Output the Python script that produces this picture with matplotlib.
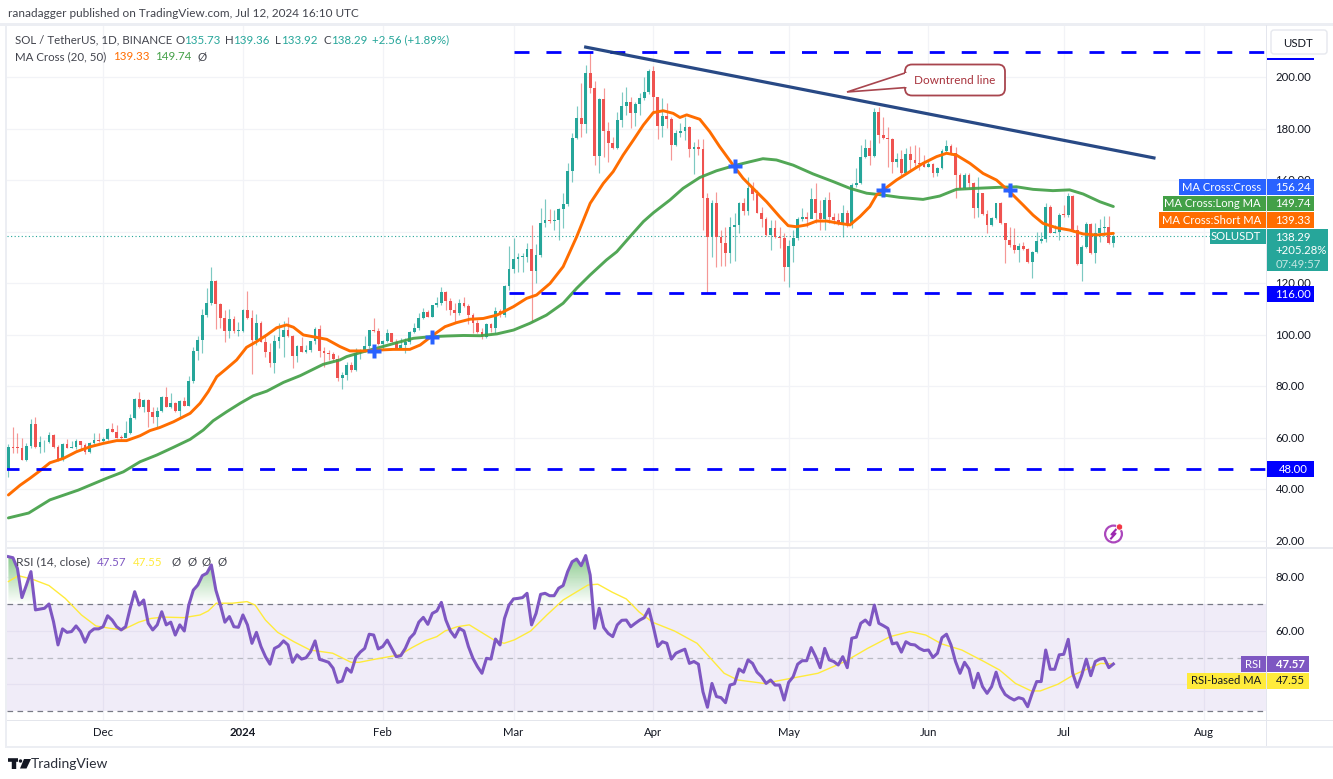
import matplotlib
matplotlib.use("Agg")
import matplotlib.pyplot as plt
import numpy as np
from matplotlib.patches import Rectangle, FancyBboxPatch, Polygon, Circle, PathPatch
from matplotlib.path import Path
from matplotlib.colors import LinearSegmentedColormap

plt.rcParams['font.family'] = ['Lato', 'DejaVu Sans']

# ---------- data ----------
first_open = 47.5
closes = [56.5,56.2,55.9,51.4,56.8,65.2,56.5,58.2,58.4,61.1,
 56.3,51.4,57.6,56.1,56.5,58.7,57.2,54.6,57.8,59.1,
 58.7,59.4,63.6,62.4,60.1,59.8,61.7,67.8,75,72,
 74.7,70.1,68.2,70.4,76,72,73.6,70.4,74.4,72.4,
 82.2,93.8,97.9,107.6,112.2,121,112,106.3,101.4,106,
 101.4,101.5,109.6,106.3,97.9,104.7,97.3,93.4,88.9,97.5,
 99.2,101.8,99.5,91.7,95.7,93.4,94,97.5,102.2,93.8,
 93,92.4,90.4,83.3,84.4,88.2,86.3,92.8,94,95.6,
 101.8,101.4,96.4,97.7,100.5,97.3,95,96,97.3,101,
 102.5,106.6,108.9,106.9,111.5,112.2,116.7,113.2,109.6,108.5,
 112.2,111.3,107.6,104.4,101,99,104,102.5,109.3,107.6,
 118.9,125.4,129.2,130,130.2,133.1,124.7,130.8,143.5,144.5,
 144,144.5,148.6,150.7,163.5,176.5,184,181.8,201.7,195.6,
 169.3,191.3,179.2,174.5,172.3,183.3,188.7,190.2,185.9,189.5,
 191.7,194,202.5,192.1,181,184.9,183.6,173.6,178.4,179.2,
 180.5,172,172.9,172,153,138,151,138,135.7,131.6,
 141.9,142.6,151,148.1,156.8,154.6,147.4,144.8,138.7,141.3,
 138,137.4,126.4,134.5,137.4,144.8,145.8,145,152.5,147.1,
 144.8,152.3,145.8,144.5,143.2,147.1,142.6,158.1,159,169.1,
 172.3,169.3,186.6,177.5,176.4,175.8,167.1,168,162.6,170,
 167.8,166.8,166.2,165.2,166.2,162.6,164.8,171.4,173.2,170.6,
 162,156.8,162,158.7,149,154.8,146.8,142.6,145.4,151,
 143.2,136.7,134.8,132.9,134.4,133.1,128.2,132.2,136.4,137,
 149.7,139.6,140,146.4,146.3,153.8,140.6,127.4,134.2,143,
 131.6,139.6,141.3,141.6,135.73,138.29]
highs = [57.6,64.3,61.7,59.8,57.8,67.1,68.2,60.7,59.1,62.2,
 61.5,57.2,57.8,59.4,58.9,59.6,58.9,57.8,58.3,61.7,
 61.7,60.4,63.8,65.6,65,61,66.6,69.2,75.3,77.6,
 75,74.9,72,72,76.2,79.6,77.2,73.7,74.7,76,
 84,95.4,99.5,109.8,118,126.1,121.2,112.4,109.6,109.8,
 107.2,105,109.8,116.8,109.6,108,105.4,100.3,96.6,99.8,
 104.7,105.4,107,99.9,96,99.2,96,97.7,103.1,103.8,
 95.4,94,93.4,92.1,85.6,89.5,89.5,94.7,94.3,99.5,
 102,106.3,102.5,97.9,102.3,100.8,98.2,98.6,98.6,101.4,
 104.4,108.5,110.5,109.6,111.5,114.7,118.6,117.1,114.1,112.2,
 113.7,114.7,111.8,108.3,105.7,102.5,104.6,104.4,110.9,109.8,
 119.3,134.5,137.4,131.6,131.6,135.4,142.6,135.2,149,152.5,
 148.6,148.4,149,154.9,166.5,178.1,188.7,197.8,204.7,209.8,
 198.6,191.7,195.6,182.7,176.8,186.5,194.3,196.2,192.4,190.4,
 193.7,200.1,203,204.3,192.1,191.7,189.8,184.6,179.4,182,
 184.6,181,174.9,175.8,175.8,154.9,152.3,155.5,140.6,141.9,
 145.8,147.1,151.6,152.9,161.3,159.4,156.2,149.7,145.8,144.5,
 144.5,141.9,139.3,136.7,140.6,145.8,149,147.7,156.8,159,
 152.3,153.6,155.5,147.4,147.1,150.3,148.4,158.7,164.6,173.6,
 175.8,175.5,187.8,188.5,184.6,180.7,176.2,170.4,171.7,172.3,
 173.2,173.6,173,169.7,167.8,166.5,165.2,171.9,175.5,174,
 173,162.6,162.9,162.6,159.4,161.3,155.1,148.4,145.8,151.2,
 151.4,143.5,141.9,141.3,135.7,136.1,133.5,132.6,140,140,
 151,150.3,142.6,147.4,150.3,154.9,154.2,142.6,134.8,143.9,
 143.2,143.2,144.8,146.2,146.1,139.36]
lows = [44.9,54,54,51.2,51,56.1,56.1,54.2,54.6,57.8,
 55.9,51.1,51,55.9,55.9,55.6,55.2,53.6,54,57.6,
 58.5,58.3,59.1,62.1,59.8,59.1,60.4,61.5,67.3,71.7,
 70.1,64.3,65.6,64.3,69.9,71.8,71.4,70.1,67.5,72.2,
 72.2,81.1,90.2,92.8,107,111.6,102.2,102.5,97.3,98.8,
 100.8,99.5,101.2,106.1,84.7,96,97,91.5,87.3,85,
 95,91.5,99.2,87.2,89.5,93.2,93,93.4,96.4,91.2,
 87.3,90.2,89.9,82.2,78.8,82.4,85.6,86,90.4,93.4,
 95,101.2,96,94,97,97,94.7,94.7,93,96.4,
 100.5,101.8,106.2,106.7,106.7,110.9,111.4,109.6,107.6,104.6,
 107.6,110.9,104.2,100.5,100.5,98.3,98.6,101.2,100.8,107,
 106.7,117.3,124,124.5,124.2,128.3,105,120,130.3,141.9,
 143.5,140.6,136.7,141.3,150.1,159.4,175.8,176.8,178.1,193.7,
 165.8,162.6,169.1,167.1,171.9,171.9,180.5,185.3,180.1,181,
 185.3,191.1,193.4,185.9,175.8,176.8,180.1,167.8,173.2,176.8,
 175.5,168.8,162.4,169.7,140.6,116,130.3,126.4,126.7,126.7,
 127.7,128.6,139.3,146.4,146.4,152.3,147.1,141.9,138.4,132.9,
 137.4,133.5,121,118.4,128.3,136.7,144.2,141.9,145.1,143.2,
 140.6,140.6,143.5,143,142.6,137.8,141.9,141.3,157.4,158.5,
 168.4,165.8,169.1,174.3,175.8,165.2,162.6,165.2,161.3,162.4,
 163.9,164.6,163.9,165.2,165.2,161.3,161.6,164.2,170.4,169.7,
 152.9,156.4,156.4,156.8,145.1,145.5,146.4,139.6,142.3,144.9,
 143,127.9,134.2,131.8,128.3,132.9,127.9,121.9,131.6,135.4,
 136.1,139.3,139.6,136.7,145.8,145.8,140,127.2,121,133.5,
 131.3,127.7,136.1,138.3,135.2,133.92]

ma20_day = [0,2.6,4.8,7,9.2,12.2,15.1,18.1,21,24,26.2,29.2,31.4,33.6,36.6,40.3,42.5,44.3,46.2,48.4,50.6,52.8,55,57.3,59.5,61.7,63.2,65.4,67.6,70.6,
 73.5,75.7,78.7,81.6,85.3,89,91.3,94.2,96.8,99.4,102.3,105.3,108.3,112,114.9,117.1,120.1,123,126,129,131.9,134.1,136.3,138.6,140.8,143,145.2,147.4,148.9,150.4,
 153.3,155.5,157.7,160.7,162.9,165.1,168.1,171,172.9,174.7,177,179.2,181.4,184.3,186.6,188.8,191,192.5,194,196.9,199.9,202.8,205.8,208,210.2,213.2,216.1,219.1,222,225,227.2,229.4,232.4,235.3,238.3,241.3,245]
ma20_val = [37.8,41.6,44.3,47.2,50.3,52,54.6,56.5,57.8,58.9,58.9,60.8,62.8,64,66.2,69.5,73.4,77.9,83.7,86.9,90.2,95.1,97.3,99.9,102.7,103.8,102.9,99.9,99.2,98.2,
 95.4,93.7,93.7,94,94.3,94.3,96,99.9,103.1,104.7,106,106.3,107.6,110.9,114.1,115.4,119.9,126.4,138,151,158.7,163.3,169.7,175.6,181.4,186.2,186.9,185.9,184.3,185.3,
 183.6,178.8,173,165.8,160.7,156.8,151.6,145.8,142.3,141.9,142.6,144.1,144.1,143.2,142.6,145.8,149.7,154.2,156.2,160,163.3,166.5,169.1,170.4,169.7,166.5,162.6,160,155.5,150.3,146.4,143.2,141.5,140.6,139.1,138.7,139.33]

ma50_day = [0,4.5,9.2,15.5,18.1,21.8,25.5,29.2,32.9,36.6,40.3,43.2,45.4,48.4,51.4,54.3,57.3,61,64.7,67.6,69.8,
 73.5,75,78.7,82.4,86.1,89.8,93.5,97.2,100.9,104.6,108.3,112,115.6,119.3,123,126,129,132.6,134.9,137.8,140.8,143,146.7,149.6,
 153.3,157,160.7,164.4,167.3,170.3,174,178.4,182.9,186.6,190.3,194,197.6,202.8,206.5,210.2,214.6,219.8,223.5,227.2,231.6,235.3,238.3,242,245]
ma50_val = [28.9,30.8,35.9,39.7,41.6,44.3,46.8,50.7,53.3,56.3,59.4,63,66.6,70.1,73.4,76.3,78.1,81.5,84.1,86.6,88.5,
 90.2,91.5,93.4,95.1,96.9,98.6,99.2,99.5,99.7,99.6,100.3,101.8,104.4,107.6,112.2,118,123.2,129,132.2,138,143.9,147.3,152.3,156.8,
 161,163.6,165.5,167.1,168.3,167.8,165.8,162.4,159.4,156.8,154.9,154.2,153.3,152.5,153.8,156.4,156.8,157.2,157.4,156.4,155.9,156.2,154.6,151.6,149.74]

cross_day = [81,94,161,194,222]
cross_val = [93.8,99.2,165.5,156.2,156.2]

rsi_val = [87.7,87.3,83.3,72.4,77.1,82.1,67.8,68.1,68.4,
 70,63.4,54.7,60.7,59.4,59.7,61.8,59.7,55.7,59.4,
 60.7,60.7,61.5,65.6,64,61.5,60.3,61.5,68.4,74.6,
 69.6,71.5,62.8,60.3,62.2,67.1,62.2,63.2,58.4,62.2,
 59.9,69.6,75.2,77.1,80.6,81.5,84.6,75.2,69.6,63.2,
 65.3,61.5,61.3,65.9,62.2,55.3,59.4,54.1,50.3,47.5,
 53.4,54.3,56.2,54.7,48.2,51,49.4,49.9,52.2,56.2,
 49.3,48.8,48.2,46,40.7,41.2,46,44.5,49.9,52,
 53.4,58.7,58.4,53.2,54.1,56.5,53.4,50.3,50.7,53.4,
 57.2,59,63.2,65,62.4,66.5,67.4,70.6,64,59.9,
 57.6,60.9,59.9,54.1,49.7,46.6,44.1,49.7,49.4,56.9,
 54.7,64.6,69.6,71.9,72.1,72.4,74,62.2,66.5,73.6,
 74,73.1,73.1,75.9,76.9,82.1,85.8,86.8,84.3,88.1,
 80.8,60.9,68.4,61.2,59,57.8,62.2,63.9,64,61.5,62.8,64,
 64.9,68.1,61.5,54.1,55.9,55.3,49.4,51.6,52.4,53.1,47.8,48.5,47.5,37.2,31.4,40.3,35.4,35,33.1,
 39.7,40.2,45.7,44.5,49.1,47.8,44.5,42.8,40.3,41.6,39.7,39.7,34.1,40.7,42.8,47.5,48.8,48.8,53.7,50.3,
 46.2,53.4,49.1,48.5,47.2,50.3,46.2,57.2,57.6,62.8,64,62.2,69.6,62.8,61.9,60.9,55.1,55.5,52,55.9,
 54.9,54.7,53.4,52.6,52.8,50,51.6,57.4,58.7,54.7,48.5,44.1,48.2,45.7,38.7,44.1,39.1,36.6,39.1,44.5,
 39.1,36.2,35,34.1,35,34.5,31.6,36.6,41,41,52.8,45.6,45.6,51,51.2,56.8,44.1,38.9,43.5,49.4,
 43.2,48.5,49.4,49.7,46.2,47.57]

rsima_day = [0,2.2,5.4,9,12.6,16.2,19.4,22.6,25.3,28.9,31.6,34.3,38.9,42.5,44.3,46.1,49.7,52.9,54.7,57,59.7,63.3,66.9,71.9,76,77.8,81.4,86.8,89.5,92.3,95,96.8,99.5,102.2,104.9,107.6,109.9,112.2,115.8,119.4,123,128.5,130.7,133.9,137,
 139.8,142.8,147.7,152.7,155.7,158.7,161.7,167.6,171.6,179.5,185.5,190.5,195.5,199.9,203.4,206.9,211.4,216.3,219.8,223.3,226.8,228.8,232.7,236.2,239.2,242.2,245]
rsima_val = [78.4,80.6,79.2,76.9,72.1,65.9,61.8,60.9,60.3,63.2,64.6,65.1,64.9,65.9,67.4,70.3,70.3,70.9,69.6,64,59.4,55.9,52.8,51.6,48.2,48.2,49.4,51,53.7,56.2,57.8,59.9,61.5,62.2,59.4,56.6,55.3,56.6,59.9,65.9,71.5,77.1,77.4,74.4,71.9,
 67.1,63.2,59.9,55.3,49.7,44.1,41.6,40.3,41.6,44.1,48.5,53.4,57.8,59.7,58.4,55.1,52.8,48.5,45.3,40.3,37.5,37.5,40,43.5,45.7,47.8,47.55]

trend_day = [128,254]
trend_val = [211.6,168.6]

levels = [209.8,116,48]
level_start = [112,111,-1]
price_ticks = [20,40,60,80,100,120,140,160,180,200]
price_labels = [20,40,60,80,100,120,160,180,200]
rsi_ticks = [40,60,80]
month_day = [21,52,83,112,143,173,204,234,265]
month_lab = ['Dec','2024','Feb','Mar','Apr','May','Jun','Jul','Aug']

# ---------- layout in pixels ----------
W, H = 1333, 779
PX0, PX1 = 7, 1266
GREEN, RED = '#26a69a', '#ef5350'
PURPLE = '#7e57c2'
GRID = '#f2f3f7'
FRAME = '#e4e6ee'
S_HEAD, S_LEG, S_AX, S_TAG = 8.45, 8.25, 8.2, 8.1

fig = plt.figure(figsize=(W/100, H/100), dpi=100, facecolor='white')
def pane(top, bottom):
    return fig.add_axes([PX0/W, 1-bottom/H, (PX1-PX0)/W, (bottom-top)/H])

ax = pane(25, 547)
rs = pane(549, 720)
xlim = ((PX0-8.4)/4.51, (PX1-8.4)/4.51)
for a in (ax, rs):
    a.set_xlim(*xlim)
    a.set_xticks([]); a.set_yticks([])
    for s in a.spines.values():
        s.set_visible(False)
    for d in month_day:
        a.axvline(d, color=GRID, lw=0.9, zorder=0)
ax.set_ylim(200-(547-77)/2.577, 200+(77-25)/2.577)
rs.set_ylim(30-(720-711)/2.675, 70+(604-549)/2.675)

for t in price_ticks:
    ax.axhline(t, color=GRID, lw=0.9, zorder=0)
for t in rsi_ticks:
    rs.axhline(t, color=GRID, lw=0.9, zorder=0)

# candles
days = np.arange(len(closes))
opens = np.array([first_open] + closes[:-1])
c = np.array(closes); h = np.array(highs); l = np.array(lows)
up = c >= opens
cols = np.where(up, GREEN, RED)
ax.vlines(days, l, h, colors=cols, lw=0.85, alpha=0.6, zorder=2)
ax.bar(days, np.maximum(np.abs(c-opens), 0.35), bottom=np.minimum(c, opens), width=0.62,
       color=cols, linewidth=0, zorder=3)

# moving averages
ax.plot(ma50_day, ma50_val, color='#43a047', lw=2.1, alpha=0.92, zorder=4, solid_capstyle='round')
ax.plot(ma20_day, ma20_val, color='#ff6d00', lw=2.1, zorder=5, solid_capstyle='round')
ax.plot(cross_day, cross_val, ls='', marker='P', ms=9.5, mfc='#2962ff', mec='none', zorder=6)

# last price dotted
ax.axhline(closes[-1], color=GREEN, lw=0.8, ls=(0, (1, 2.2)), zorder=1)

# horizontal levels
for v, s in zip(levels, level_start):
    ax.plot([s, xlim[1]], [v, v], color='#0000ff', lw=2.0, ls=(0, (5.4, 6.1)), zorder=7,
            dash_capstyle='butt')
# downtrend line
ax.plot(trend_day, trend_val, color='#1c3f7e', lw=2.3, zorder=8, alpha=0.95)

# RSI pane
rs.axhspan(30, 70, color=PURPLE, alpha=0.11, lw=0, zorder=0.5)
rd = np.arange(len(rsi_val))
rv = np.array(rsi_val)
grad = np.linspace(0, 1, 128).reshape(-1, 1)
cmap = LinearSegmentedColormap.from_list('g', ['#4caf50', '#ffffff'])
im = rs.imshow(grad, extent=(xlim[0], xlim[1], 70, 91), origin='upper', aspect='auto',
               cmap=cmap, alpha=0.75, zorder=1)
rs.set_xlim(*xlim); rs.set_ylim(30-(720-711)/2.675, 70+(604-549)/2.675)
poly = rs.fill_between(rd, 70, rv, where=rv > 70, interpolate=True, color='none', lw=0)
clip = PathPatch(Path.make_compound_path(*poly.get_paths()), transform=rs.transData, fc='none', ec='none')
rs.add_patch(clip)
im.set_clip_path(clip)
for v, cc in zip([70, 50, 30], ['#787b86', '#b8bac2', '#787b86']):
    rs.axhline(v, color=cc, lw=0.9, ls=(0, (4.5, 3.5)), zorder=2)
rs.plot(rsima_day, rsima_val, color='#ffeb3b', lw=1.0, zorder=3)
rs.plot(rd, rv, color=PURPLE, lw=2.2, zorder=4, solid_joinstyle='round')

# ---------- overlay in pixel coordinates ----------
ov = fig.add_axes([0, 0, 1, 1], facecolor='none')
ov.set_xlim(0, W); ov.set_ylim(H, 0); ov.axis('off')
ov.set_zorder(10)

def rect(x0, y0, x1, y1, col, z=2):
    ov.add_patch(Rectangle((x0, y0), x1-x0, y1-y0, fc=col, ec='none', zorder=z))
def txt(x, y, s, col='#131722', size=S_LEG, ha='left', z=6, **kw):
    ov.text(x, y+0.5, s, color=col, fontsize=size, ha=ha, va='center', zorder=z, **kw)

# frame
rect(0, 23, W, 26, '#eceef3')
rect(5, 23, 7, 747, '#eceef3')
rect(PX1, 25, PX1+1, 747, FRAME)
rect(7, 547, W, 549, '#e9ebf0')
rect(7, 719.5, W, 721, '#e4e6ec')
rect(5, 745.5, W, 748, '#eceef3')

# header
txt(8, 13, 'ranadagger published on TradingView.com, Jul 12, 2024 16:10 UTC', '#42444d', S_HEAD)
TXT2 = '#42444d'
txt(15, 39.5, 'SOL / TetherUS, 1D, BINANCE', TXT2)
for xl, lab, xv, val in [(175, 'O', 184, '135.73'), (225, 'H', 233, '139.36'),
                         (275, 'L', 281, '133.92'), (323, 'C', 331, '138.29')]:
    txt(xl, 39.5, lab, TXT2)
    txt(xv, 39.5, val, GREEN)
txt(372, 39.5, '+2.56 (+1.89%)', GREEN)
txt(15, 56, 'MA Cross (20, 50)', TXT2)
txt(113, 56, '139.33', '#ff6d00')
txt(155, 56, '149.74', '#43a047')
txt(197, 56, 'Ø', TXT2)
# RSI legend
txt(16, 561.5, 'RSI (14, close)', TXT2, 8.7)
txt(97, 561.5, '47.57', PURPLE)
txt(133, 561.5, '47.55', '#ffeb3b')
for x in (172, 187, 202, 217):
    txt(x, 561.5, 'Ø', TXT2)

# axis labels
AXT = '#131722'
for v in price_labels:
    txt(1275.5, 77+(200-v)*2.577, f'{v:.2f}', AXT, S_AX, z=3)
for v, y in zip(rsi_ticks[1:], [631, 577]):
    txt(1275.5, y, f'{v:.2f}', AXT, S_AX, z=3)
for d, m in zip(month_day, month_lab):
    txt(8.4+4.51*d, 732.5, m, AXT, S_AX, ha='center', fontweight='bold' if m == '2024' else 'normal')

# USDT button with the top level tag beneath
rect(1267, 58, 1314, 60, '#0000ff', 3)
ov.add_patch(FancyBboxPatch((1271, 30), 56, 24, boxstyle='round,pad=0,rounding_size=3',
                            fc='white', ec='#e6e8ee', lw=1, zorder=4))
txt(1298.5, 42.5, 'USDT', AXT, S_AX, ha='center')

# price tags
def tag(y0, y1, x0, label, col, value, x2=1314):
    rect(x0, y0, 1265.5, y1, col, 4)
    rect(1266.5, y0, x2, y1, col, 4)
    txt(1261, (y0+y1)/2, label, 'white', S_TAG, ha='right')
    txt(1275.5, (y0+y1)/2, value, 'white', S_AX)
tag(179, 195, 1179, 'MA Cross:Cross', '#2962ff', '156.24')
tag(195.5, 211, 1163, 'MA Cross:Long MA', '#43a047', '149.74')
tag(212, 227.5, 1159, 'MA Cross:Short MA', '#ff6d00', '139.33')
rect(1210, 228.5, 1265.5, 244, GREEN, 4)
txt(1261, 236, 'SOLUSDT', 'white', S_TAG, ha='right')
rect(1266.5, 228.5, 1328, 271, GREEN, 4)
txt(1275.5, 236.5, '138.29', 'white', S_AX)
txt(1275.5, 250, '+205.28%', 'white', S_AX)
txt(1275.5, 263.5, '07:49:57', '#c3e6e2', S_AX)
rect(1266.5, 285.5, 1314, 301.5, '#0000ff', 4)
txt(1275.5, 293.5, '116.00', 'white', S_AX)
rect(1266.5, 460.5, 1314, 476.5, '#0000ff', 4)
txt(1279, 468.5, '48.00', 'white', S_AX)

# RSI tags
rect(1241, 655.5, 1265.5, 672, PURPLE, 4)
rect(1266.5, 655.5, 1309, 672, PURPLE, 4)
txt(1261, 664, 'RSI', 'white', S_TAG, ha='right')
txt(1275.5, 664, '47.57', 'white', S_AX, fontweight='bold')
rect(1187, 672.5, 1265.5, 689, '#ffeb3b', 4)
rect(1266.5, 672.5, 1309, 689, '#ffeb3b', 4)
txt(1261, 680.5, 'RSI-based MA', '#131722', S_TAG, ha='right')
txt(1275.5, 680.5, '47.55', '#131722', S_AX)

# callout
CALL = '#a8454e'
ov.add_patch(FancyBboxPatch((905, 64.5), 100, 31, boxstyle='round,pad=0,rounding_size=7',
                            fc='white', ec=CALL, lw=1.3, zorder=4))
ov.add_patch(Polygon([(906.5, 72.5), (847, 92), (906.5, 87.5)], closed=False,
                     fc='white', ec=CALL, lw=1.2, zorder=5))
rect(904.8, 73, 907, 87, 'white', 5.5)
txt(955, 80, 'Downtrend line', '#a8333d', 8.45, ha='center')

# event icon
ov.add_patch(Circle((1113.5, 534), 8.4, fc='white', ec='#ab47bc', lw=1.6, zorder=4))
ov.plot([1116, 1111.5, 1115.5, 1111], [529.5, 534.5, 533.5, 538.5], color='#9c27b0', lw=1.5, zorder=5)
ov.add_patch(Circle((1119.5, 527), 3.2, fc='#f23645', ec='white', lw=0.6, zorder=6))

# logo
ov.plot([8, 18], [759.5, 759.5], color='#131722', lw=2.6, solid_capstyle='butt', zorder=5)
ov.plot([13.5, 13.5], [759.5, 768.5], color='#131722', lw=3.2, solid_capstyle='butt', zorder=5)
ov.add_patch(Polygon([(24, 759), (31, 759), (26.5, 768.5), (20, 768.5)], fc='#131722', ec='none', zorder=5))
ov.add_patch(Circle((20.5, 761), 1.7, fc='#131722', ec='none', zorder=5))
txt(31, 764, 'TradingView', '#2a2e39', 10)

fig.savefig('out.png', dpi=100, facecolor='white')
